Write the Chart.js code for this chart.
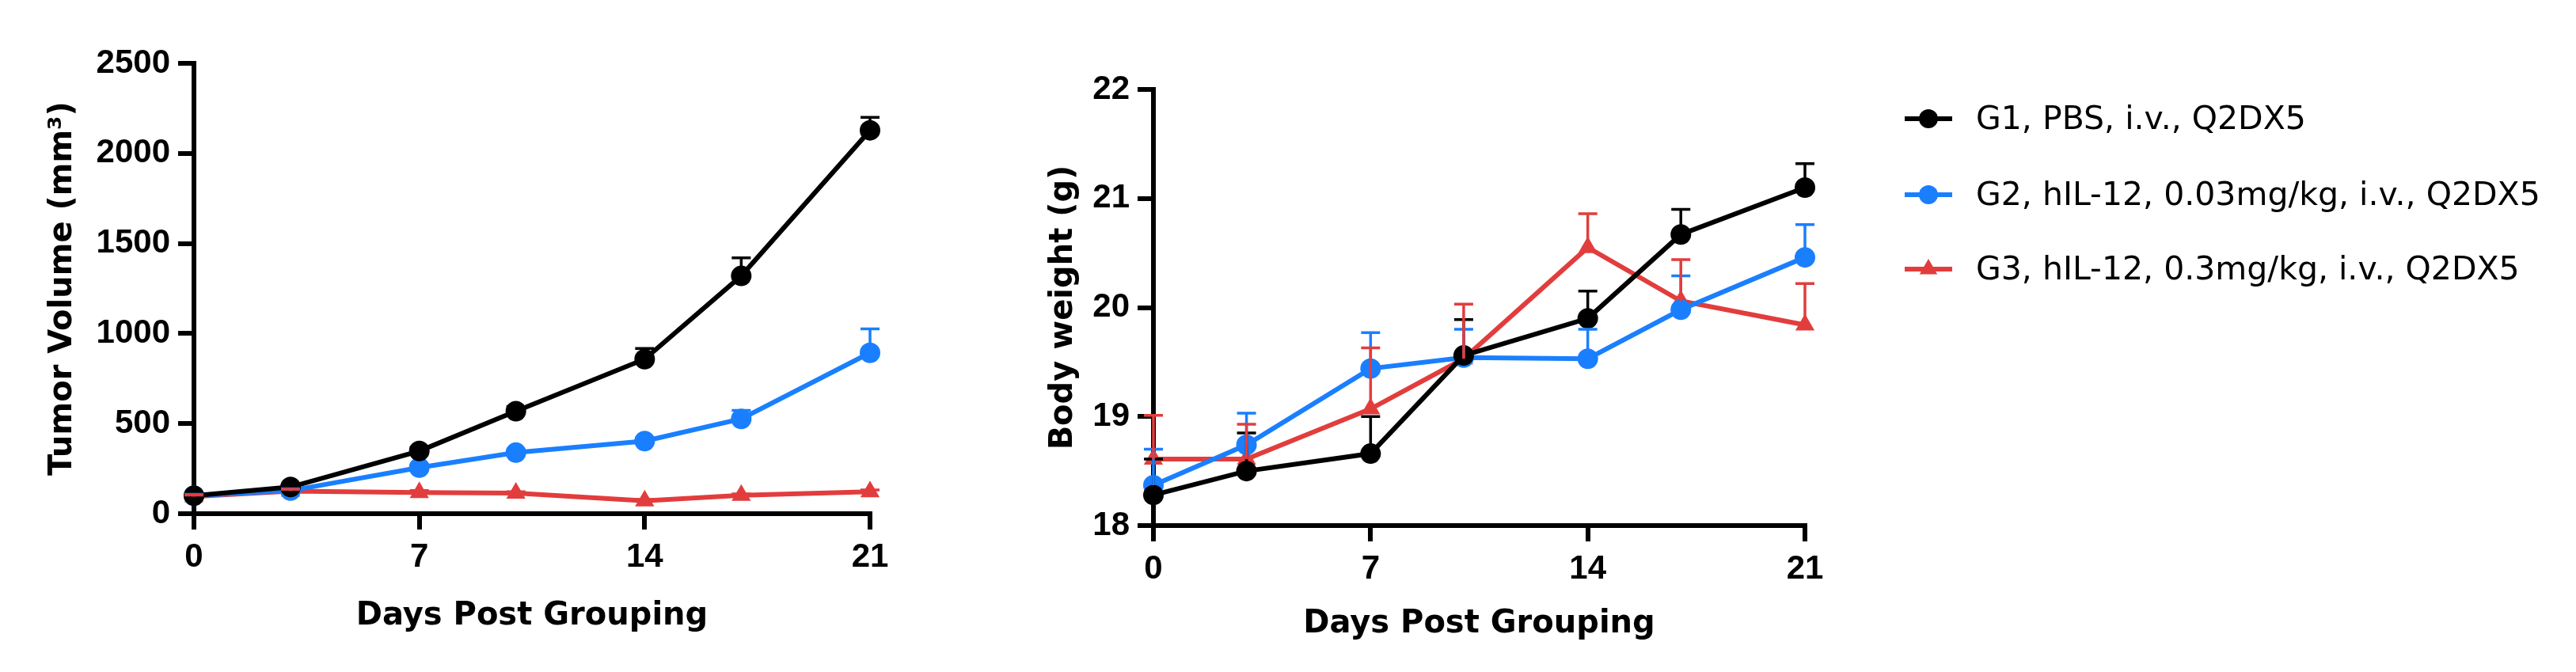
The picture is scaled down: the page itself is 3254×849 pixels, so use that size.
<!DOCTYPE html>
<html lang="en">
  <head>
    <meta charset="UTF-8" />
    <title>Tumor volume and body weight</title>
    <script src="https://cdn.jsdelivr.net/npm/chart.js"></script>
    <style>
      body { margin: 0; background: #fff; width: 3254px; height: 849px; overflow: hidden; position: relative; }
      canvas { position: absolute; top: 0; }
      #tumor { left: 0; }
      #weight { left: 1250px; }
    </style>
  </head>
  <body>
    <canvas id="tumor" width="1250" height="849"></canvas>
    <canvas id="weight" width="2004" height="849"></canvas>
    <script>
      // values
      const days = [0, 3, 7, 10, 14, 17, 21];
      const groupLabels = [
        "G1, PBS, i.v., Q2DX5",
        "G2, hIL-12, 0.03mg/kg, i.v., Q2DX5",
        "G3, hIL-12, 0.3mg/kg, i.v., Q2DX5",
      ];

      const tumorG1 = [100, 148, 348, 569, 858, 1320, 2128];
      const tumorG1Err = [8, 12, 20, 25, 59, 100, 72];
      const tumorG2 = [100, 128, 256, 339, 403, 526, 893];
      const tumorG2Err = [8, 10, 15, 15, 18, 47, 133];
      const tumorG3 = [95, 125, 118, 114, 71, 102, 122];
      const tumorG3Err = [8, 10, 10, 8, 8, 8, 10];

      const weightG1 = [18.28, 18.5, 18.66, 19.56, 19.9, 20.67, 21.1];
      const weightG1Err = [0.33, 0.35, 0.34, 0.33, 0.25, 0.23, 0.22];
      const weightG2 = [18.37, 18.74, 19.44, 19.54, 19.53, 19.98, 20.46];
      const weightG2Err = [0.33, 0.29, 0.33, 0.26, 0.27, 0.31, 0.3];
      const weightG3 = [18.61, 18.61, 19.07, 19.53, 20.55, 20.06, 19.84];
      const weightG3Err = [0.4, 0.32, 0.56, 0.5, 0.31, 0.38, 0.38];

      const colors = ["#000000", "#1A7FFF", "#E23D3D"];
      const shapes = ["circle", "circle", "triangle"];
      const sizes = [13, 13, 14];

      const tickFont = { family: '"Liberation Sans", Arial, sans-serif', size: 42, weight: "bold" };
      const titleFont = { family: '"DejaVu Sans", sans-serif', size: 40, weight: "bold" };

      function toPoints(values) {
        return values.map((v, i) => ({ x: days[i], y: v }));
      }

      function makeDatasets(series, errors) {
        return series.map((values, i) => ({
          label: groupLabels[i],
          data: toPoints(values),
          errors: errors[i],
          borderColor: colors[i],
          backgroundColor: colors[i],
          pointBackgroundColor: colors[i],
          pointBorderWidth: 0,
          pointStyle: shapes[i],
          pointRadius: sizes[i],
          borderWidth: 6,
          tension: 0,
          clip: false,
        }));
      }

      // upper-only error bars (SEM) like the original figure
      const errorBars = {
        id: "errorBars",
        afterDatasetsDraw(chart) {
          const ctx = chart.ctx;
          const xs = chart.scales.x;
          const ys = chart.scales.y;
          chart.data.datasets.forEach((ds, i) => {
            if (!chart.isDatasetVisible(i)) return;
            ctx.save();
            ctx.strokeStyle = ds.borderColor;
            ctx.lineWidth = 3.5;
            ds.data.forEach((p, j) => {
              const x = xs.getPixelForValue(p.x);
              const y0 = ys.getPixelForValue(p.y);
              const y1 = ys.getPixelForValue(p.y + ds.errors[j]);
              ctx.beginPath();
              ctx.moveTo(x, y0);
              ctx.lineTo(x, y1);
              ctx.moveTo(x - 12, y1);
              ctx.lineTo(x + 12, y1);
              ctx.stroke();
            });
            ctx.restore();
          });
        },
      };

      // legend to the right of the body weight chart
      const sideLegend = {
        id: "sideLegend",
        afterDraw(chart, args, opts) {
          const ctx = chart.ctx;
          chart.data.datasets.forEach((ds, i) => {
            const y = opts.rows[i];
            const cx = opts.x + opts.lineLength / 2;
            ctx.save();
            ctx.strokeStyle = ds.borderColor;
            ctx.lineWidth = 6;
            ctx.beginPath();
            ctx.moveTo(opts.x, y);
            ctx.lineTo(opts.x + opts.lineLength, y);
            ctx.stroke();
            ctx.fillStyle = ds.borderColor;
            Chart.helpers.drawPoint(ctx, { pointStyle: ds.pointStyle, radius: ds.pointRadius - 1, rotation: 0, borderWidth: 0 }, cx, y);
            ctx.font = opts.font;
            ctx.textBaseline = "middle";
            ctx.textAlign = "left";
            ctx.fillStyle = "#000";
            ctx.fillText(ds.label, opts.textX, y + 2);
            ctx.restore();
          });
        },
      };

      function axis(opts) {
        return {
          type: "linear",
          position: opts.position,
          min: opts.min,
          max: opts.max,
          afterFit: opts.afterFit,
          border: { display: true, color: "#000", width: 6 },
          grid: { display: true, drawOnChartArea: false, drawTicks: true, tickLength: 20, tickWidth: 6, tickColor: "#000", color: "#000", lineWidth: 6 },
          ticks: { stepSize: opts.step, padding: 10, color: "#000", font: tickFont, maxRotation: 0, callback: (v) => String(v) },
          title: { display: true, text: opts.title, color: "#000", font: titleFont, padding: opts.titlePadding },
        };
      }

      const tumorChart = new Chart(document.getElementById("tumor").getContext("2d"), {
        type: "line",
        data: {
          datasets: makeDatasets([tumorG1, tumorG2, tumorG3], [tumorG1Err, tumorG2Err, tumorG3Err]),
        },
        options: {
          responsive: false,
          animation: false,
          layout: { padding: { left: 0, top: 80, right: 151, bottom: 0 } },
          plugins: { legend: { display: false }, tooltip: { enabled: false } },
          scales: {
            x: axis({ position: "bottom", min: 0, max: 21, step: 7, title: "Days Post Grouping", titlePadding: { top: 0, bottom: 46 }, afterFit: (s) => { s.height = 200; } }),
            y: axis({ position: "left", min: 0, max: 2500, step: 500, title: "Tumor Volume (mm\u00B3)", titlePadding: { top: 56, bottom: 0 }, afterFit: (s) => { s.width = 245; } }),
          },
        },
        plugins: [errorBars],
      });

      const weightChart = new Chart(document.getElementById("weight").getContext("2d"), {
        type: "line",
        data: {
          datasets: makeDatasets([weightG1, weightG2, weightG3], [weightG1Err, weightG2Err, weightG3Err]),
        },
        options: {
          responsive: false,
          animation: false,
          layout: { padding: { left: 0, top: 113, right: 974, bottom: 0 } },
          plugins: {
            legend: { display: false },
            tooltip: { enabled: false },
            sideLegend: { x: 1156, lineLength: 60, textX: 1246, rows: [150, 246, 340], font: '41px "DejaVu Sans", sans-serif' },
          },
          scales: {
            x: axis({ position: "bottom", min: 0, max: 21, step: 7, title: "Days Post Grouping", titlePadding: { top: 0, bottom: 36 }, afterFit: (s) => { s.height = 185; } }),
            y: axis({ position: "left", min: 18, max: 22, step: 1, title: "Body weight (g)", titlePadding: { top: 70, bottom: 0 }, afterFit: (s) => { s.width = 207; } }),
          },
        },
        plugins: [errorBars, sideLegend],
      });
    </script>
  </body>
</html>
